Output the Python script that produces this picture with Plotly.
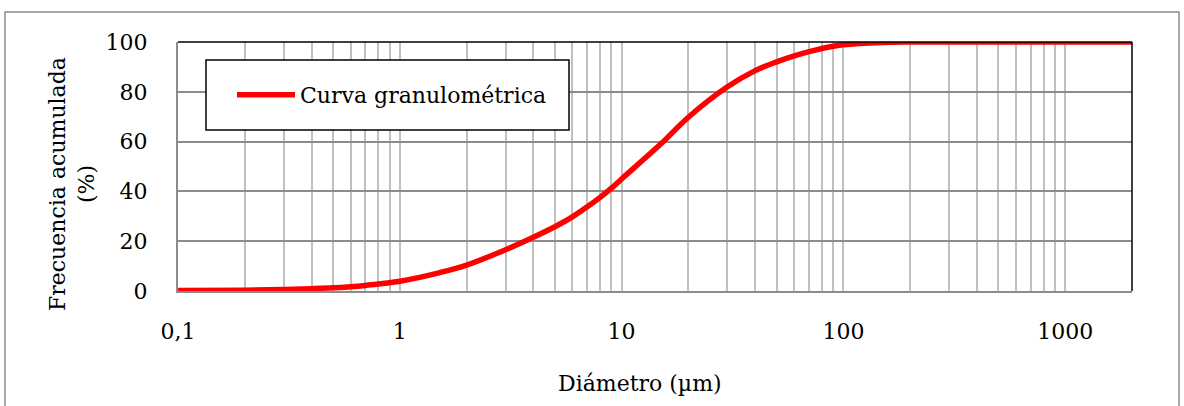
import plotly.graph_objects as go

# Data
diametro = [0.1, 0.2, 0.3, 0.4, 0.5, 0.6, 0.7, 0.8, 0.9, 1, 1.5, 2, 3, 4, 5, 6,
            7, 8, 9, 10, 15, 20, 30, 40, 50, 60, 70, 80, 90, 100, 150, 200,
            500, 1000, 2000]
frecuencia = [0.2, 0.35, 0.6, 0.95, 1.3, 1.75, 2.25, 2.8, 3.35, 3.9, 7.3, 10.4,
              16.6, 21.6, 25.8, 29.8, 33.8, 37.6, 41.3, 45.0, 59.0, 69.8,
              82.0, 88.5, 92.0, 94.4, 96.1, 97.4, 98.3, 98.9, 99.8, 100,
              100, 100, 100]

x_tickvals = [0.1, 1, 10, 100, 1000]
x_ticktext = ["0,1", "1", "10", "100", "1000"]
y_tickvals = [0, 20, 40, 60, 80, 100]
minor_vals = [k * 10 ** e for e in range(-1, 4) for k in range(2, 10) if k * 10 ** e <= 2000]

FONT = "DejaVu Serif"
FS = 22
L, R, T, B = 178, 52, 42, 115
W, H = 1184, 406
pw, ph = W - L - R, H - T - B

def px(x):
    return (x - L) / pw

def py(y):
    return (H - B - y) / ph

fig = go.Figure()
fig.add_trace(go.Scatter(
    x=diametro, y=frecuencia, mode="lines", name="Curva granulométrica",
    line=dict(color="#ff0000", width=5.5, shape="spline", smoothing=1.0),
))

fig.update_layout(
    width=W, height=H,
    margin=dict(l=L, r=R, t=T, b=B, autoexpand=False),
    paper_bgcolor="white", plot_bgcolor="white",
    font=dict(family=FONT, size=FS, color="black"),
    showlegend=True,
    legend=dict(x=px(232), y=py(95), xanchor="left", yanchor="middle",
                bgcolor="rgba(0,0,0,0)", borderwidth=0,
                font=dict(family=FONT, size=FS, color="black"),
                itemwidth=58),
)

fig.update_xaxes(
    type="log", range=[-1, 3.30103],
    tickmode="array", tickvals=x_tickvals, ticktext=x_ticktext,
    showgrid=True, gridcolor="#c0c0c0", gridwidth=1.5,
    minor=dict(tickmode="array", tickvals=minor_vals, showgrid=True,
               gridcolor="#c0c0c0", gridwidth=1.5, ticks=""),
    showline=True, linecolor="#8c8c8c", linewidth=2,
    ticks="", ticklabelstandoff=20,
    tickfont=dict(family=FONT, size=FS),
    zeroline=False,
)
fig.update_yaxes(
    range=[0, 100], tickmode="array", tickvals=y_tickvals,
    showgrid=True, gridcolor="#8c8c8c", gridwidth=1.5,
    showline=True, linecolor="#8c8c8c", linewidth=2,
    ticks="", ticklabelstandoff=24,
    tickfont=dict(family=FONT, size=FS),
    zeroline=False,
)

# plot area border (top / right black)
fig.add_shape(type="line", xref="paper", yref="paper", x0=0, x1=1, y0=1, y1=1,
              line=dict(color="black", width=1.5), layer="above")
fig.add_shape(type="line", xref="paper", yref="paper", x0=1, x1=1, y0=0, y1=1,
              line=dict(color="black", width=1.5), layer="above")

# legend box
fig.add_shape(type="rect", xref="paper", yref="paper",
              x0=px(206), x1=px(569), y0=py(130), y1=py(60),
              line=dict(color="black", width=1.5), fillcolor="white", layer="above")

# outer chart border
fig.add_shape(type="rect", xref="paper", yref="paper",
              x0=px(5), x1=px(1179), y0=py(430), y1=py(12),
              line=dict(color="#8c8c8c", width=1.5), fillcolor="rgba(0,0,0,0)",
              layer="below")

# axis titles
fig.add_annotation(text="Frecuencia acumulada<br>(%)", xref="paper", yref="paper",
                   x=px(72), y=py(184), xanchor="center", yanchor="middle",
                   textangle=-90, showarrow=False,
                   font=dict(family=FONT, size=FS))
fig.add_annotation(text="Diámetro (µm)", xref="paper", yref="paper",
                   x=px(640), y=py(383), xanchor="center", yanchor="middle",
                   showarrow=False, font=dict(family=FONT, size=FS))

fig.write_html(
    "out.html",
    config={"displayModeBar": False},
    post_script="document.body.style.margin='0';document.body.style.overflow='hidden';",
)
